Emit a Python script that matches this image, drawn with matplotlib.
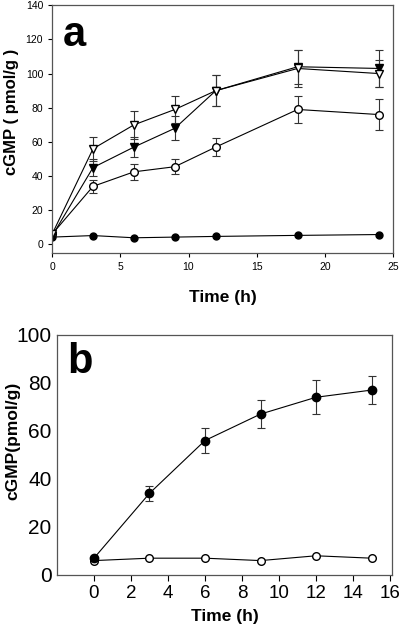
import numpy as np
import matplotlib.pyplot as plt

plt.rcParams["font.family"] = ["Liberation Sans", "DejaVu Sans"]

# Panel a data
t_a = [0, 3, 6, 9, 12, 18, 24]
open_tri = [6, 56, 70, 79, 90, 103, 100]
open_tri_err = [0, 7, 8, 8, 9, 11, 8]
filled_tri = [5, 45, 57, 68, 90, 104, 103]
filled_tri_err = [0, 5, 6, 7, 9, 10, 11]
open_circ = [6, 34, 42.5, 45.5, 57, 79, 76]
open_circ_err = [0, 4, 4.5, 4.5, 5.5, 8, 9]
filled_circ = [4.3, 5.2, 3.9, 4.3, 4.7, 5.3, 5.8]

# Panel b data
t_b = [0, 3, 6, 9, 12, 15]
b_filled = [7, 34, 56, 67, 74, 77]
b_filled_err = [0, 3, 5, 6, 7, 6]
b_open = [6, 7, 7, 6, 8, 7]

fig = plt.figure(figsize=(4.04, 6.32), dpi=100)
ax1 = fig.add_axes([0.129, 0.5997, 0.844, 0.392])
ax2 = fig.add_axes([0.141, 0.0902, 0.829, 0.380])

ln = dict(color="black", linewidth=0.8, ecolor="#333333", elinewidth=0.8,
          capsize=3, capthick=0.8)

# --- panel a ---
ax1.plot(t_a, filled_circ, "-o", color="black", mfc="black", mec="black",
         ms=5, lw=0.8)
ax1.errorbar(t_a, open_circ, yerr=open_circ_err, fmt="-o", mfc="white",
             mec="black", ms=5.5, **ln)
ax1.errorbar(t_a, filled_tri, yerr=filled_tri_err, fmt="-v", mfc="black",
             mec="black", ms=5.5, **ln)
ax1.errorbar(t_a, open_tri, yerr=open_tri_err, fmt="-v", mfc="white",
             mec="black", ms=5.5, **ln)
ax1.set_xlim(0, 25)
ax1.set_ylim(-5, 140)
ax1.set_xticks([0, 5, 10, 15, 20, 25])
ax1.set_yticks(np.arange(0, 141, 20))
ax1.tick_params(labelsize=7.5, length=3, width=0.8, direction="out")
ax1.set_xlabel("Time (h)", fontsize=12.5, fontweight="bold")
ax1.xaxis.set_label_coords(0.5, -0.15)
ax1.set_ylabel("cGMP ( pmol/g )", fontsize=12, fontweight="bold")
ax1.yaxis.set_label_coords(-0.097, 0.57)
ax1.text(0.03, 0.96, "a", transform=ax1.transAxes, fontsize=30,
         fontweight="bold", va="top", ha="left")
for s in ax1.spines.values():
    s.set_color("#555555")
    s.set_linewidth(0.9)

# --- panel b ---
ax2.errorbar(t_b, b_filled, yerr=b_filled_err, fmt="-o", mfc="black",
             mec="black", ms=6, **ln)
ax2.plot(t_b, b_open, "-o", color="black", mfc="white", mec="black",
         ms=5.5, lw=0.8)
ax2.set_xlim(-2, 16.1)
ax2.set_ylim(0, 100)
ax2.set_xticks(np.arange(0, 17, 2))
ax2.set_yticks(np.arange(0, 101, 20))
ax2.tick_params(axis="x", labelsize=13.5, length=4, width=0.8, direction="out")
ax2.tick_params(axis="y", labelsize=15, length=0, pad=4)
ax2.set_xlabel("Time (h)", fontsize=12.5, fontweight="bold")
ax2.xaxis.set_label_coords(0.5, -0.14)
ax2.set_ylabel("cGMP(pmol/g)", fontsize=12.5, fontweight="bold")
ax2.yaxis.set_label_coords(-0.11, 0.56)
ax2.text(0.03, 0.97, "b", transform=ax2.transAxes, fontsize=30,
         fontweight="bold", va="top", ha="left")
for s in ax2.spines.values():
    s.set_color("#555555")
    s.set_linewidth(0.9)

fig.savefig("out.png", dpi=100)
